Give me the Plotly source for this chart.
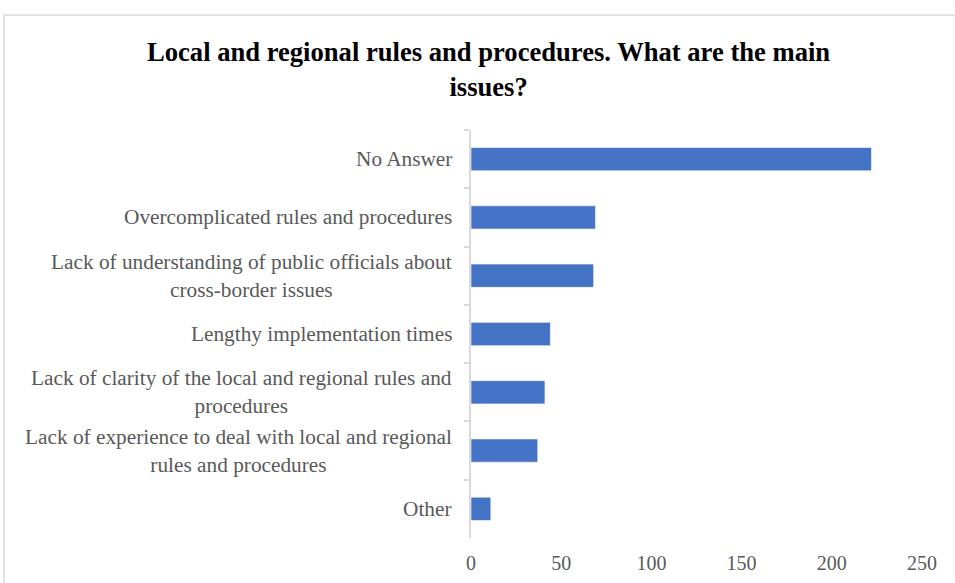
import plotly.graph_objects as go

# Survey responses: main issues with local and regional rules and procedures
categories = [
    "No Answer",
    "Overcomplicated rules and procedures",
    "Lack of understanding of public officials about<br>cross-border issues",
    "Lengthy implementation times",
    "Lack of clarity of the local and regional rules and<br>procedures",
    "Lack of experience to deal with local and regional<br>rules and procedures",
    "Other",
]
counts = [222, 69, 68, 44, 41, 37, 11]
x_ticks = [0, 50, 100, 150, 200, 250]

SERIF = "Times New Roman, Liberation Serif, serif"
LABEL_GREY = "#595959"
AXIS_GREY = "#d9d9d9"

W, H = 955, 583
L, R, T, B = 471, 33, 130, 45
plot_w = W - L - R
plot_h = H - T - B

fig = go.Figure(
    go.Bar(
        x=counts,
        y=categories,
        orientation="h",
        marker=dict(color="#4472C4", line=dict(color="#ffffff", width=0.6)),
        hoverinfo="x+y",
    )
)

# Category labels: centred multi-line blocks, right-aligned against the axis
annotations = [
    dict(
        x=0, y=cat, xref="x", yref="y",
        text=cat, showarrow=False,
        xanchor="right", yanchor="middle", align="center",
        xshift=-17,
        font=dict(family=SERIF, size=21.3, color=LABEL_GREY),
    )
    for cat in categories
]

# Chart title
annotations.append(
    dict(
        x=(488 - L) / plot_w, y=(H - B - 69) / plot_h,
        xref="paper", yref="paper",
        text="<b>Local and regional rules and procedures. What are the main<br>issues?</b>",
        showarrow=False, xanchor="center", yanchor="middle", align="center",
        font=dict(family=SERIF, size=26.6, color="#000000"),
    )
)

fig.update_layout(
    width=W, height=H,
    margin=dict(l=L, r=R, t=T, b=B, autoexpand=False),
    paper_bgcolor="#ffffff",
    plot_bgcolor="#ffffff",
    showlegend=False,
    bargap=0.6,
    annotations=annotations,
    shapes=[
        # Light outline of the chart area
        dict(
            type="rect", xref="paper", yref="paper",
            x0=(4 - L) / plot_w, x1=(960 - L) / plot_w,
            y0=(H - B - 590) / plot_h, y1=(H - B - 15) / plot_h,
            line=dict(color=AXIS_GREY, width=1.5),
            fillcolor="rgba(0,0,0,0)", layer="below",
        )
    ],
)

fig.update_xaxes(
    range=[0, 250],
    tickvals=x_ticks,
    ticktext=[str(v) for v in x_ticks],
    showgrid=False,
    zeroline=False,
    showline=False,
    ticks="",
    ticklabelstandoff=11,
    tickfont=dict(family=SERIF, size=20, color=LABEL_GREY),
)

fig.update_yaxes(
    categoryorder="array",
    categoryarray=categories,
    autorange="reversed",
    showticklabels=False,
    showgrid=False,
    zeroline=False,
    showline=True,
    linecolor=AXIS_GREY,
    linewidth=2,
    ticks="outside",
    tickson="boundaries",
    ticklen=5,
    tickcolor=AXIS_GREY,
    tickwidth=2,
)

fig.write_html("out.html")
